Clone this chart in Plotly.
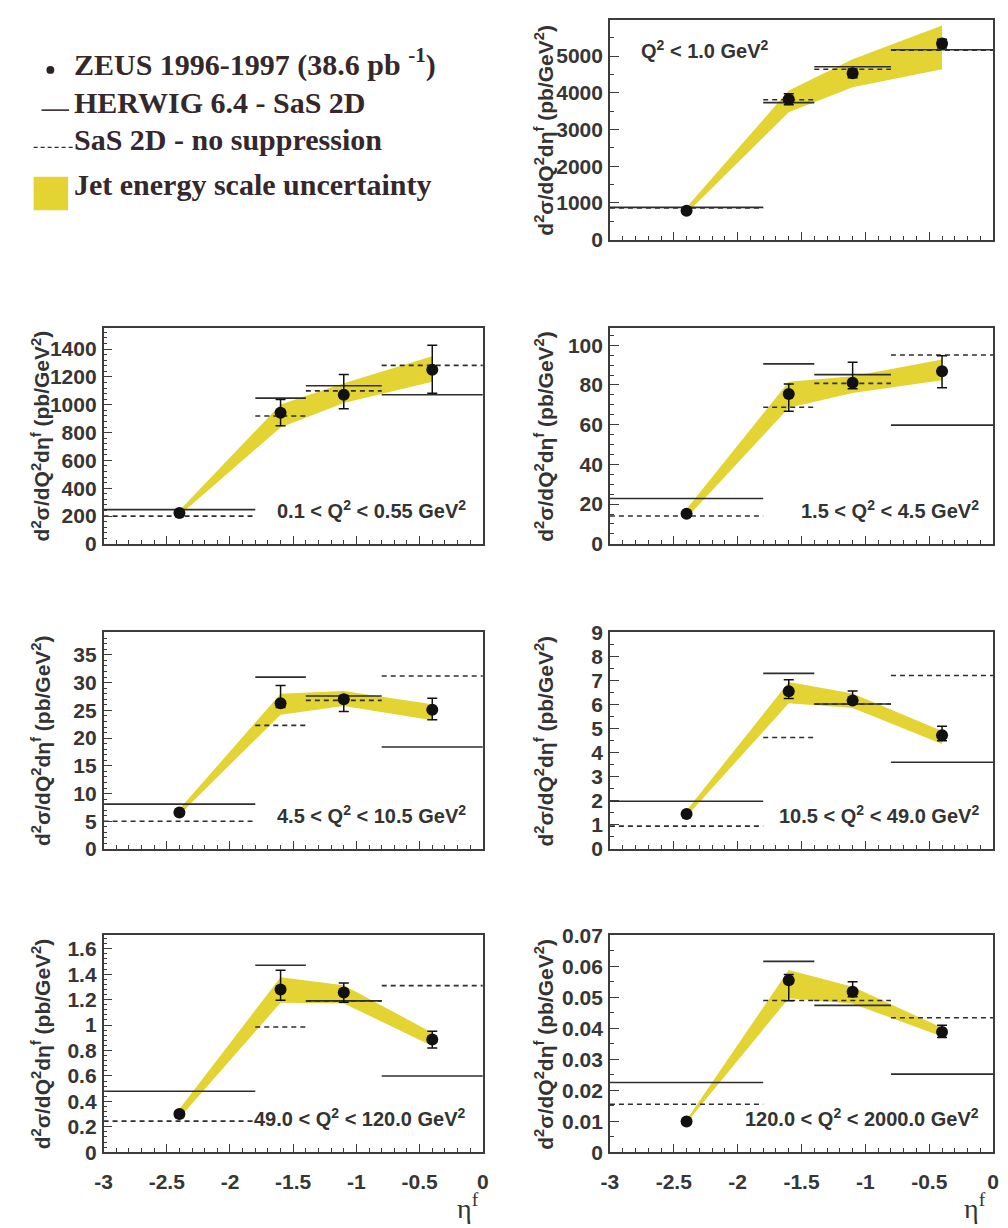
import plotly.graph_objects as go

# eta^f binning shared by every Q^2 range
ETA_EDGES = [-3.0, -1.8, -1.4, -0.8, 0.0]
ETA_CENTRES = [-2.4, -1.6, -1.1, -0.4]

# Q^2 < 1.0 GeV^2
ZEUS_Q2_A = [790, 3820, 4530, 5340]
ERRUP_Q2_A = [40, 150, 120, 120]
ERRDN_Q2_A = [40, 150, 120, 120]
HERWIG_Q2_A = [880, 3730, 4710, 5170]
NOSUP_Q2_A = [860, 3810, 4640, 5160]
JES_LO_Q2_A = [720, 3470, 4150, 4640]
JES_HI_Q2_A = [880, 4060, 4910, 5830]

# 0.1 < Q^2 < 0.55 GeV^2
ZEUS_Q2_B = [222, 943, 1072, 1252]
ERRUP_Q2_B = [15, 94, 145, 176]
ERRDN_Q2_B = [15, 94, 101, 169]
HERWIG_Q2_B = [246, 1048, 1137, 1072]
NOSUP_Q2_B = [199, 919, 1100, 1283]
JES_LO_Q2_B = [205, 837, 1013, 1166]
JES_HI_Q2_B = [240, 1001, 1154, 1348]

# 1.5 < Q^2 < 4.5 GeV^2
ZEUS_Q2_C = [15.1, 75.5, 81.1, 86.9]
ERRUP_Q2_C = [0.8, 5.0, 10.4, 7.8]
ERRDN_Q2_C = [0.8, 8.7, 3.0, 8.3]
HERWIG_Q2_C = [22.8, 90.6, 85.2, 59.8]
NOSUP_Q2_C = [14.0, 68.8, 80.8, 95.1]
JES_LO_Q2_C = [13.0, 68.5, 75.9, 82.4]
JES_HI_Q2_C = [17.5, 81.6, 84.4, 92.8]

# 4.5 < Q^2 < 10.5 GeV^2
ZEUS_Q2_D = [6.6, 26.3, 27.0, 25.1]
ERRUP_Q2_D = [0.3, 3.2, 0.7, 2.1]
ERRDN_Q2_D = [0.3, 0.8, 2.2, 1.8]
HERWIG_Q2_D = [8.1, 31.0, 27.6, 18.4]
NOSUP_Q2_D = [5.0, 22.3, 26.8, 31.2]
JES_LO_Q2_D = [6.2, 24.2, 25.8, 23.2]
JES_HI_Q2_D = [7.2, 28.0, 28.5, 26.1]

# 10.5 < Q^2 < 49.0 GeV^2
ZEUS_Q2_E = [1.45, 6.55, 6.16, 4.72]
ERRUP_Q2_E = [0.05, 0.47, 0.40, 0.38]
ERRDN_Q2_E = [0.05, 0.30, 0.15, 0.23]
HERWIG_Q2_E = [1.98, 7.29, 6.02, 3.60]
NOSUP_Q2_E = [0.95, 4.63, 6.02, 7.20]
JES_LO_Q2_E = [1.35, 6.05, 5.85, 4.36]
JES_HI_Q2_E = [1.60, 6.93, 6.45, 4.90]

# 49.0 < Q^2 < 120.0 GeV^2
ZEUS_Q2_F = [0.30, 1.28, 1.255, 0.887]
ERRUP_Q2_F = [0.02, 0.15, 0.075, 0.065]
ERRDN_Q2_F = [0.02, 0.085, 0.075, 0.067]
HERWIG_Q2_F = [0.48, 1.47, 1.19, 0.60]
NOSUP_Q2_F = [0.245, 0.985, 1.19, 1.31]
JES_LO_Q2_F = [0.27, 1.175, 1.17, 0.836]
JES_HI_Q2_F = [0.34, 1.376, 1.312, 0.94]

# 120.0 < Q^2 < 2000.0 GeV^2
ZEUS_Q2_G = [0.0099, 0.0555, 0.0518, 0.0388]
ERRUP_Q2_G = [0.0005, 0.0019, 0.0032, 0.0022]
ERRDN_Q2_G = [0.0005, 0.0066, 0.0016, 0.0018]
HERWIG_Q2_G = [0.0225, 0.0616, 0.0474, 0.0252]
NOSUP_Q2_G = [0.0155, 0.0490, 0.0490, 0.0434]
JES_LO_Q2_G = [0.0095, 0.0497, 0.0479, 0.0374]
JES_HI_Q2_G = [0.0105, 0.0588, 0.0534, 0.0402]

Q2_LABELS = [
    "Q<sup>2</sup> < 1.0 GeV<sup>2</sup>",
    "0.1 < Q<sup>2</sup> < 0.55 GeV<sup>2</sup>",
    "1.5 < Q<sup>2</sup> < 4.5 GeV<sup>2</sup>",
    "4.5 < Q<sup>2</sup> < 10.5 GeV<sup>2</sup>",
    "10.5 < Q<sup>2</sup> < 49.0 GeV<sup>2</sup>",
    "49.0 < Q<sup>2</sup> < 120.0 GeV<sup>2</sup>",
    "120.0 < Q<sup>2</sup> < 2000.0 GeV<sup>2</sup>",
]
X_TICKS = [-3, -2.5, -2, -1.5, -1, -0.5, 0]
X_TICK_TEXT = ["-3", "-2.5", "-2", "-1.5", "-1", "-0.5", "0"]

Y_RANGES = [5985, 1552, 108.7, 39.1, 9.0, 1.705, 0.07]
Y_MAJOR = [1000, 200, 20, 5, 1, 0.2, 0.01]
Y_MINOR = [500, 40, 5, 1, 0.5, 0.04, 0.005]

panels = [
    (ZEUS_Q2_A, ERRUP_Q2_A, ERRDN_Q2_A, HERWIG_Q2_A, NOSUP_Q2_A, JES_LO_Q2_A, JES_HI_Q2_A),
    (ZEUS_Q2_B, ERRUP_Q2_B, ERRDN_Q2_B, HERWIG_Q2_B, NOSUP_Q2_B, JES_LO_Q2_B, JES_HI_Q2_B),
    (ZEUS_Q2_C, ERRUP_Q2_C, ERRDN_Q2_C, HERWIG_Q2_C, NOSUP_Q2_C, JES_LO_Q2_C, JES_HI_Q2_C),
    (ZEUS_Q2_D, ERRUP_Q2_D, ERRDN_Q2_D, HERWIG_Q2_D, NOSUP_Q2_D, JES_LO_Q2_D, JES_HI_Q2_D),
    (ZEUS_Q2_E, ERRUP_Q2_E, ERRDN_Q2_E, HERWIG_Q2_E, NOSUP_Q2_E, JES_LO_Q2_E, JES_HI_Q2_E),
    (ZEUS_Q2_F, ERRUP_Q2_F, ERRDN_Q2_F, HERWIG_Q2_F, NOSUP_Q2_F, JES_LO_Q2_F, JES_HI_Q2_F),
    (ZEUS_Q2_G, ERRUP_Q2_G, ERRDN_Q2_G, HERWIG_Q2_G, NOSUP_Q2_G, JES_LO_Q2_G, JES_HI_Q2_G),
]

W, H = 1008, 1228
ROWS = [(8, 232), (322, 542), (632, 853), (941, 1162)]
COLS = [(96, 481), (610, 999)]
# (row, column) of each panel frame
PLACEMENT = [(0, 1), (1, 0), (1, 1), (2, 0), (2, 1), (3, 0), (3, 1)]

BAND = "#e3d434"
INK = "#2e2e2e"
AXIS = "#3c3c3c"
SANS = "Liberation Sans, Arial, sans-serif"
SERIF = "Liberation Serif, Times New Roman, serif"
TICK_FONT = dict(family=SANS, size=21, color="#363636", weight="bold")
LABEL_FONT = dict(family=SANS, size=20, color="#333333", weight="bold")
LEGEND_FONT = dict(family=SERIF, size=30, color="#35282c", weight="bold")


def fx(px):
    return px / W


def fy(py):
    return 1 - py / H


def steps(values):
    xs, ys = [], []
    for i, v in enumerate(values):
        xs += [ETA_EDGES[i], ETA_EDGES[i + 1], None]
        ys += [v, v, None]
    return xs, ys


fig = go.Figure()
annotations = []

for k, (zeus, eup, edn, herwig, nosup, lo, hi) in enumerate(panels):
    n = k + 1
    xa, ya = ("x", "y") if n == 1 else (f"x{n}", f"y{n}")
    row, col = PLACEMENT[k]
    top, bot = ROWS[row]
    left, right = COLS[col]
    bottom_row = row == 3

    # jet energy scale band
    fig.add_trace(go.Scatter(
        x=ETA_CENTRES + ETA_CENTRES[::-1], y=hi + lo[::-1],
        fill="toself", fillcolor=BAND, line=dict(width=0), mode="lines",
        hoverinfo="skip", showlegend=False, xaxis=xa, yaxis=ya))
    hx, hy = steps(herwig)
    fig.add_trace(go.Scatter(
        x=hx, y=hy, mode="lines", line=dict(color=INK, width=1.6),
        showlegend=False, xaxis=xa, yaxis=ya))
    nx, ny = steps(nosup)
    fig.add_trace(go.Scatter(
        x=nx, y=ny, mode="lines", line=dict(color=INK, width=1.6, dash="5px,4px"),
        showlegend=False, xaxis=xa, yaxis=ya))
    fig.add_trace(go.Scatter(
        x=ETA_CENTRES, y=zeus, mode="markers",
        marker=dict(color="#111111", size=12, symbol="circle"),
        error_y=dict(type="data", symmetric=False, array=eup, arrayminus=edn,
                     color="#111111", thickness=1.5, width=5),
        showlegend=False, xaxis=xa, yaxis=ya))

    xkey = "xaxis" if n == 1 else f"xaxis{n}"
    ykey = "yaxis" if n == 1 else f"yaxis{n}"
    fig.layout[xkey] = dict(
        domain=[fx(left), fx(right)], anchor=ya, range=[-3, 0],
        showline=True, mirror=True, linecolor=AXIS, linewidth=1.5,
        showgrid=False, zeroline=False,
        tickmode="array", tickvals=X_TICKS, ticktext=X_TICK_TEXT,
        ticks="inside", ticklen=8, tickwidth=1.2, tickcolor=AXIS,
        minor=dict(tickmode="linear", tick0=-3, dtick=0.1, ticks="inside",
                   ticklen=4, tickwidth=1, tickcolor=AXIS, showgrid=False),
        showticklabels=bottom_row, tickfont=TICK_FONT, ticklabelstandoff=10)
    fig.layout[ykey] = dict(
        domain=[fy(bot), fy(top)], anchor=xa, range=[0, Y_RANGES[k]],
        showline=True, mirror=True, linecolor=AXIS, linewidth=1.5,
        showgrid=False, zeroline=False,
        tickmode="linear", tick0=0, dtick=Y_MAJOR[k],
        ticks="inside", ticklen=9, tickwidth=1.2, tickcolor=AXIS,
        minor=dict(tickmode="linear", tick0=0, dtick=Y_MINOR[k], ticks="inside",
                   ticklen=4, tickwidth=1, tickcolor=AXIS, showgrid=False),
        tickfont=TICK_FONT, ticklabelstandoff=1)

    # y-axis title
    annotations.append(dict(
        text="d<sup>2</sup>σ/dQ<sup>2</sup>dη<sup>f</sup> (pb/GeV<sup>2</sup>)",
        xref="paper", yref="paper", x=fx(32 if col == 0 else 543), y=fy((top + bot) / 2),
        textangle=-90, showarrow=False, xanchor="center", yanchor="middle",
        font=dict(family=SANS, size=21, color="#333333", weight="bold")))

    # Q^2 range label
    if n == 1:
        lx, ly, anchor = fx(640), fy(38), "left"
    else:
        lx, ly, anchor = fx(466 if col == 0 else 987), fy(bot - 35), "right"
    annotations.append(dict(
        text=Q2_LABELS[k], xref="paper", yref="paper", x=lx, y=ly,
        xanchor=anchor, yanchor="middle", showarrow=False, font=LABEL_FONT))

# eta^f axis titles under the bottom row
for xc in (466, 981):
    annotations.append(dict(
        text="η<sup>f</sup>", xref="paper", yref="paper", x=fx(xc), y=fy(1217),
        xanchor="center", yanchor="middle", showarrow=False,
        font=dict(family=SERIF, size=28, color="#333333")))

# legend block
legend_rows = [
    ("ZEUS 1996-1997 (38.6 pb <sup>-1</sup>)", 51),
    ("HERWIG 6.4 - SaS 2D", 92),
    ("SaS 2D - no suppression", 130),
    ("Jet energy scale uncertainty", 176),
]
for text, yc in legend_rows:
    annotations.append(dict(
        text=text, xref="paper", yref="paper", x=fx(64), y=fy(yc),
        xanchor="left", yanchor="middle", showarrow=False, font=LEGEND_FONT))

shapes = [
    dict(type="circle", xref="paper", yref="paper",
         x0=fx(38), x1=fx(46), y0=fy(63), y1=fy(55),
         fillcolor="#2a2226", line=dict(width=0)),
    dict(type="line", xref="paper", yref="paper",
         x0=fx(33), x1=fx(61), y0=fy(100), y1=fy(100),
         line=dict(color="#35282c", width=1.6)),
    dict(type="line", xref="paper", yref="paper",
         x0=fx(25), x1=fx(66), y0=fy(138), y1=fy(138),
         line=dict(color="#35282c", width=1.4, dash="4px,3px")),
    dict(type="rect", xref="paper", yref="paper",
         x0=fx(25), x1=fx(60), y0=fy(202), y1=fy(168),
         fillcolor=BAND, line=dict(width=0)),
]

fig.update_layout(
    width=W, height=H, margin=dict(l=0, r=0, t=0, b=0),
    paper_bgcolor="white", plot_bgcolor="white",
    showlegend=False, annotations=annotations, shapes=shapes)

fig.write_html("out.html")
